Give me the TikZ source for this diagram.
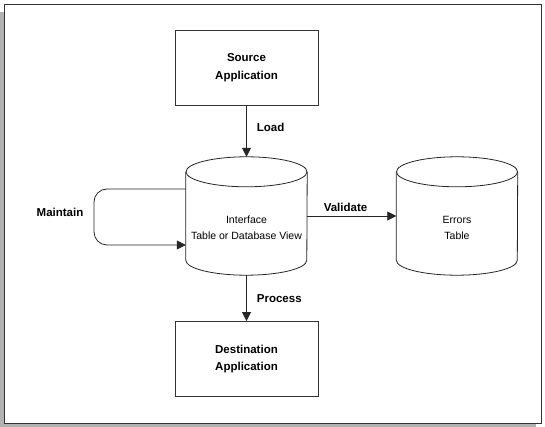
\documentclass[tikz,border=0pt]{standalone}
\usepackage{fontspec}
\setmainfont{Liberation Sans}
\usetikzlibrary{arrows.meta}
\begin{document}
\begin{tikzpicture}[x=1pt,y=-1pt,
  line/.style={draw=black!85, line width=0.8pt},
  arr/.style={line, -{Triangle[length=9pt,width=9pt]}},
  boxnode/.style={draw=black!80, line width=0.9pt, minimum width=143pt, minimum height=75pt,
    align=center, font=\fontsize{11.5}{17.5}\selectfont\bfseries, inner sep=0pt},
  cylnode/.style={minimum width=121pt, minimum height=118pt, inner sep=0pt},
  cyltext/.style={align=center, font=\fontsize{10.5}{16}\selectfont, inner sep=0pt},
  lbl/.style={font=\fontsize{11.5}{14}\selectfont\bfseries, inner sep=0pt}]
\useasboundingbox (0,0) rectangle (545,427);
% frame with shadow
\fill[black!30] (0,12) rectangle (536,427);
\draw[fill=white, draw=black!80, line width=1pt] (4,4.5) rectangle (541.5,423);
% nodes
\node[boxnode] (src) at (246.5,67.5) {Source\\Application};
\node[boxnode] (dst) at (246.5,359) {Destination\\Application};
\node[cylnode] (ifc) at (246.5,216) {};
\node[cylnode] (err) at (457,216) {};
\node[cyltext] (ifct) at (246.5,228) {Interface\\Table or Database View};
\node[cyltext] (errt) at (457,228) {Errors\\Table};
% cylinder outlines
\foreach \c in {ifc,err}{
  \draw[line] ([yshift=-15pt]\c.north) ellipse [x radius=60.5, y radius=15];
  \draw[line] ([yshift=-15pt]\c.north west) -- ([yshift=15pt]\c.south west)
     arc[start angle=180, end angle=0, x radius=60.5, y radius=15]
     -- ([yshift=-15pt]\c.north east);
}
% connectors
\draw[arr] (src) -- (ifc.north) node[lbl, pos=0.42, right=10pt] {Load};
\draw[arr] (ifc.south) -- (dst.north) node[lbl, pos=0.5, right=10pt] {Process};
\draw[arr] (ifc.east) -- (err.west) node[lbl, pos=0.43, above=4pt] {Validate};
\coordinate (mtop) at ([yshift=27pt]ifc.west);
\coordinate (mbot) at ([yshift=-29pt]ifc.west);
\draw[arr, rounded corners=13pt] (mtop) -| (94,216) |- (mbot);
\node[lbl] (mnt) at (60,212) {Maintain};
\end{tikzpicture}
\end{document}
